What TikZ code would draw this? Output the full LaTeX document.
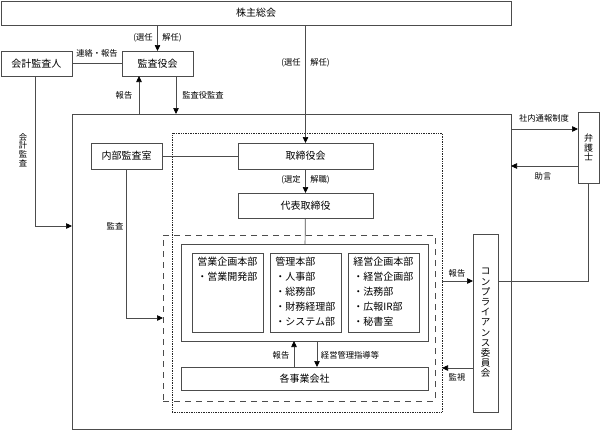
\documentclass[tikz,border=0pt]{standalone}
\usepackage{fontspec}
\setmainfont{Noto Sans CJK JP}
\usetikzlibrary{arrows.meta}
\colorlet{ln}{black!70}

\begin{document}
\begin{tikzpicture}[x=1pt, y=-1pt, line width=0.7pt,
    main node/.style={draw=ln, inner sep=0pt, outer sep=0pt, font=\fontsize{10}{12}\selectfont},
    unit box/.style={draw=ln, inner sep=0pt, outer sep=0pt},
    tate/.style={align=center, font=\fontsize{9.5}{10.2}\selectfont},
    lbl/.style={inner sep=0.5pt, font=\fontsize{8.3}{9}\selectfont},
    arr/.style={draw=ln, -{Triangle[length=6pt,width=5.5pt,color=black]}},
    link/.style={draw=ln}]
  \useasboundingbox (0,0) rectangle (603,431);

  % frames
  \node[unit box, minimum width=439, minimum height=315] (company) at (291.5,271.5) {};
  \node[unit box, densely dotted, draw=black!85, minimum width=270, minimum height=279] (ctrl) at (307,272.5) {};
  \node[unit box, dash pattern=on 6pt off 5pt, minimum width=272, minimum height=166] (group) at (299,318) {};

  \node[main node, minimum width=510, minimum height=24] (sh) at (256,13) {株主総会};
  \node[main node, minimum width=71, minimum height=25] (kaikei) at (36.5,63.5) {会計監査人};
  \node[main node, minimum width=71, minimum height=25] (kansa) at (157.5,63.5) {監査役会};
  \node[main node, minimum width=71, minimum height=26] (naibu) at (126.5,156) {内部監査室};
  \node[main node, minimum width=135, minimum height=26] (board) at (305.5,156) {取締役会};
  \node[main node, minimum width=135, minimum height=25] (ceo) at (305.5,205.5) {代表取締役};
  \node[main node, minimum width=247, minimum height=97] (honbu) at (304.5,292.5) {};
  \node[main node, minimum width=247, minimum height=23] (jigyo) at (304.5,378.5) {各事業会社};
  \node[main node, tate, minimum width=25, minimum height=178] (comp) at (485.5,323)
    {コ\\ン\\プ\\ラ\\イ\\ア\\ン\\ス\\委\\員\\会};
  \node[main node, tate, font=\fontsize{9}{9.6}\selectfont, minimum width=21, minimum height=71] (lawyer) at (588.5,147.5)
    {弁\\護\\士};

  % divisions
  \foreach \name/\cx/\txt in {
      eigyo/227.5/{営業企画本部\\・営業開発部},
      kanri/305.5/{管理本部\\・人事部\\・総務部\\・財務経理部\\・システム部},
      keiei/383.5/{経営企画本部\\・経営企画部\\・法務部\\・広報IR部\\・秘書室}} {
    \node[unit box, minimum width=71, minimum height=79] (\name) at (\cx,292.5) {};
    \node[anchor=north west, align=left, inner sep=0pt, font=\fontsize{10}{15}\selectfont]
      (\name-txt) at ([xshift=5pt,yshift=-4pt]\name.north west) {\txt};
  }

  % connectors
  \draw[arr] (sh.south -| kansa) -- (kansa.north);
  \draw[arr] (sh.south -| board) -- (board.north);
  \draw[link] (kaikei) -- (kansa);
  \draw[arr] ([xshift=-18.5pt]kansa.south |- company.north) -- ([xshift=-18.5pt]kansa.south);
  \draw[arr] ([xshift=18.5pt]kansa.south) -- ([xshift=18.5pt]kansa.south |- company.north);
  \draw[arr] ([xshift=-1.5pt]kaikei.south) |- ([yshift=45.5pt]company.west);
  \draw[link] (naibu) -- (board);
  \draw[arr] (board) -- (ceo);
  \draw[link] (ceo) -- (honbu);
  \draw[arr] (naibu.south) |- (group.west);
  \draw[arr] ([xshift=-10.5pt]jigyo.north) -- ([xshift=-10.5pt]honbu.south);
  \draw[arr] ([xshift=12.5pt]honbu.south) -- ([xshift=12.5pt]jigyo.north);

  \coordinate (rep) at ([yshift=42pt]comp.west);
  \coordinate (mon) at ([yshift=-45pt]comp.west);
  \draw[arr] (ctrl.east |- rep) -- (rep);
  \draw[arr] (mon) -- (ctrl.east |- mon);
  \draw[link] ([yshift=42pt]comp.east) -| (lawyer.south);

  \coordinate (tsuho) at ([yshift=18.5pt]lawyer.west);
  \coordinate (jogen) at ([yshift=-18.5pt]lawyer.west);
  \draw[arr] (company.east |- tsuho) -- (tsuho);
  \draw[arr] (jogen) -- (company.east |- jogen);

  % labels
  \node[lbl] (l-sen1) at (143,38) {(選任};
  \node[lbl] (l-kai1) at (172,38) {解任)};
  \node[lbl] (l-sen2) at (291,63) {(選任};
  \node[lbl] (l-kai2) at (320,63) {解任)};
  \node[lbl] (l-renraku) at (97,53) {連絡・報告};
  \node[lbl] (l-hokoku1) at (124,95) {報告};
  \node[lbl] (l-kansayaku) at (203,95) {監査役監査};
  \node[lbl, align=center, font=\fontsize{8.3}{8.6}\selectfont] (l-kaikei) at (23,150) {会\\計\\監\\査};
  \node[lbl] (l-kansa) at (115,226) {監査};
  \node[lbl] (l-sentei) at (291,180) {(選定};
  \node[lbl] (l-kaishoku) at (320,180) {解職)};
  \node[lbl] (l-hokoku2) at (281,355) {報告};
  \node[lbl] (l-shido) at (350,355) {経営管理指導等};
  \node[lbl] (l-hokoku3) at (457,273) {報告};
  \node[lbl] (l-kanshi) at (457,377) {監視};
  \node[lbl] (l-tsuho) at (544,118) {社内通報制度};
  \node[lbl] (l-jogen) at (543,176) {助言};
\end{tikzpicture}
\end{document}
